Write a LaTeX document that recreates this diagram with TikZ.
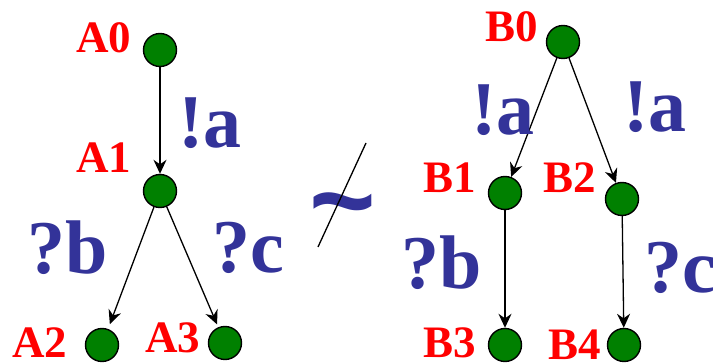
\documentclass[tikz,border=0pt]{standalone}
\usepackage{fontspec}
\setmainfont{Liberation Serif}[BoldFont={Liberation Serif Bold}]
\newfontfamily\symfont{Liberation Sans}[BoldFont={Liberation Sans Bold}]
\definecolor{stred}{RGB}{255,0,0}
\definecolor{actblue}{RGB}{51,51,153}
\definecolor{stgreen}{RGB}{0,128,0}
\usetikzlibrary{arrows.meta}

\begin{document}
\begin{tikzpicture}[x=1pt,y=1pt,
  state/.style={
    circle, minimum size=33pt, inner sep=0pt,
    draw=black, line width=1.4pt,
    fill=stgreen
  },
  stname/.style={font=\fontsize{45}{45}\selectfont\bfseries, text=stred, inner sep=0pt},
  act/.style={font=\fontsize{76}{76}\selectfont\bfseries, text=actblue, inner sep=0pt},
  trans/.style={-{Stealth[length=14pt,width=13pt]}, line width=1.3pt, draw=black}
]
\useasboundingbox (0,0) rectangle (713,364);

% left tree
\node[state] (a0) at (160,314) {};
\node[state] (a1) at (160,173) {};
\node[state] (a2) at (102,19)  {};
\node[state] (a3) at (225,21)  {};

\node[stname] (la0) at (104,326) {A0};
\node[stname] (la1) at (104,206) {A1};
\node[stname] (la2) at (40,21)   {A2};
\node[stname] (la3) at (173,26)  {A3};

\draw[trans] (a0) -- (a1);
\draw[trans, shorten >=5pt] (a1) -- (a2);
\draw[trans, shorten >=3pt] (a1) -- (a3);

\node[act] (ea) at (210,241) {!a};
\node[act] (eb) at (68,116)  {?b};
\node[act] (ec) at (248,116) {?c};

% not equivalent
\node[font=\symfont\fontsize{114}{114}\selectfont\bfseries, text=actblue, inner sep=0pt] (neq) at (343,148) {\char"007E};
\coordinate (slt) at (366,221);
\coordinate (slb) at (318,117);
\draw[line width=1.3pt] (slt) -- (slb);

% right tree
\node[state] (b0) at (563,322) {};
\node[state] (b1) at (505,171) {};
\node[state] (b2) at (622,165) {};
\node[state] (b3) at (505,19)  {};
\node[state] (b4) at (624,19)  {};

\node[stname] (lb0) at (512,337) {B0};
\node[stname] (lb1) at (450,186) {B1};
\node[stname] (lb2) at (570,186) {B2};
\node[stname] (lb3) at (450,21)  {B3};
\node[stname] (lb4) at (575,19)  {B4};

\draw[trans] (b0) -- (b1);
\draw[trans] (b0) -- (b2);
\draw[trans] (b1) -- (b3);
\draw[trans] (b2) -- (b4);

\node[act] (fa1) at (503,254) {!a};
\node[act] (fa2) at (655,257) {!a};
\node[act] (fb)  at (442,101) {?b};
\node[act] (fc)  at (680,96)  {?c};
\end{tikzpicture}
\end{document}
